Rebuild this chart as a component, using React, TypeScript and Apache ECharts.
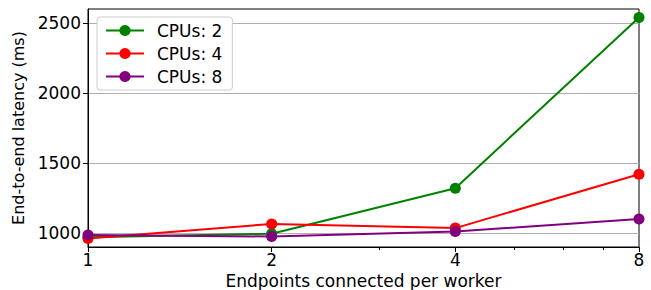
import React, { useEffect, useRef } from "react";
import * as echarts from "echarts";

const endpoints = [1, 2, 4, 8];
const cpus2 = [970, 995, 1320, 2540];
const cpus4 = [960, 1065, 1035, 1420];
const cpus8 = [985, 975, 1010, 1100];
const yTicks = [1000, 1500, 2000, 2500];
const xMinorTicks = [3, 5, 6, 7];

const FONT = "DejaVu Sans";

export default function App() {
  const ref = useRef<HTMLDivElement>(null);
  useEffect(() => {
    if (!ref.current) return;
    const chart = echarts.init(ref.current, null, { renderer: "svg" });
    const mk = (name: string, color: string, vals: number[]) => ({
      name,
      type: "line",
      data: endpoints.map((x, i) => [x, vals[i]]),
      symbol: "circle",
      symbolSize: 11,
      lineStyle: { color, width: 2 },
      itemStyle: { color },
      xAxisIndex: 0,
      yAxisIndex: 0,
      clip: false,
    });
    chart.setOption({
      animation: false,
      textStyle: { fontFamily: FONT },
      grid: {
        left: 88,
        right: 12,
        top: 9,
        bottom: 43,
        outerBoundsMode: "none",
        containLabel: false,
        show: true,
        borderColor: "#000",
        borderWidth: 1,
        backgroundColor: "transparent",
      },
      legend: {
        left: 97,
        top: 17,
        orient: "vertical",
        itemGap: 6,
        itemWidth: 38,
        itemHeight: 14,
        padding: [5, 10, 5, 8],
        backgroundColor: "#fff",
        borderColor: "#ccc",
        borderWidth: 1,
        borderRadius: 3,
        textStyle: { fontFamily: FONT, fontSize: 17, color: "#000", padding: [0, 0, 0, 8] },
        data: ["CPUs: 2", "CPUs: 4", "CPUs: 8"],
      },
      xAxis: [
        {
          type: "log",
          logBase: 2,
          min: 1,
          max: 8,
          name: "Endpoints connected per worker",
          nameLocation: "middle",
          nameGap: 21,
          nameTextStyle: { fontFamily: FONT, fontSize: 17, color: "#000", verticalAlign: "top" },
          axisLine: { show: true, lineStyle: { color: "#000", width: 1 } },
          axisTick: { show: true, inside: false, length: 5, lineStyle: { color: "#000" } },
          axisLabel: { fontFamily: FONT, fontSize: 17, color: "#000", margin: 4 },
          splitLine: { show: false },
          minorTick: { show: false },
        },
        {
          type: "log",
          logBase: 2,
          min: 1,
          max: 8,
          position: "bottom",
          axisLine: { show: false },
          axisTick: { show: true, length: 3, lineStyle: { color: "#000" }, customValues: xMinorTicks },
          axisLabel: { show: false },
          splitLine: { show: false },
        },
      ],
      yAxis: {
        type: "value",
        min: 900,
        max: 2600,
        name: "End-to-end latency (ms)",
        nameLocation: "middle",
        nameGap: 45,
        nameTextStyle: { fontFamily: FONT, fontSize: 16, color: "#000" },
        axisLine: { show: true, lineStyle: { color: "#000", width: 1 } },
        axisTick: { show: true, length: 5, lineStyle: { color: "#000" }, customValues: yTicks },
        axisLabel: {
          fontFamily: FONT,
          fontSize: 17,
          color: "#000",
          margin: 7,
          customValues: yTicks,
          formatter: (v: number) => String(v),
        },
        splitLine: { show: true, lineStyle: { color: "#b0b0b0", width: 1 } },
      },
      series: [
        mk("CPUs: 2", "#008000", cpus2),
        mk("CPUs: 4", "#ff0000", cpus4),
        mk("CPUs: 8", "#800080", cpus8),
      ],
    });
    return () => chart.dispose();
  }, []);
  return (
    <div
      ref={ref}
      style={{ position: "absolute", left: 0, top: 0, width: 651, height: 290 }}
    />
  );
}
